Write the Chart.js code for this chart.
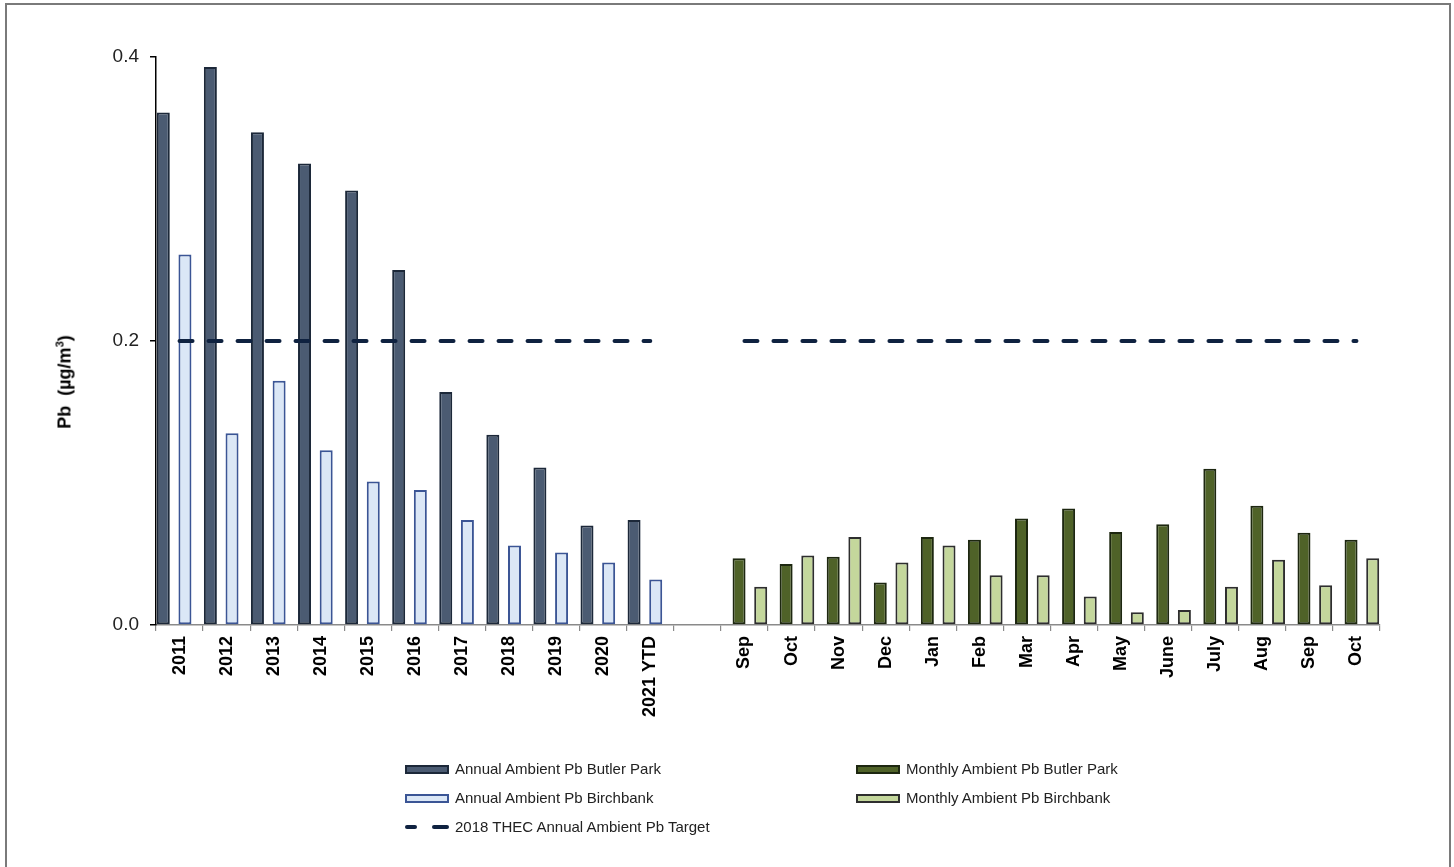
<!DOCTYPE html>
<html>
<head>
<meta charset="utf-8">
<script src="https://cdn.jsdelivr.net/npm/chart.js@4/dist/chart.umd.min.js"></script>
<style>
  html, body { margin: 0; padding: 0; background: #fff; }
  body { width: 1454px; height: 867px; position: relative; overflow: hidden; font-family: "Liberation Sans", Arial, sans-serif; }
  #frame { position: absolute; left: 5px; top: 3px; width: 1446px; height: 900px; border: 2px solid #7a7a7a; box-sizing: border-box; }
  #wrap { position: absolute; left: 0; top: 0; width: 1454px; height: 867px; }
  #ytitle { position: absolute; left: 65px; top: 382px; transform: translate(-50%, -50%) rotate(-90deg); font-weight: bold; font-size: 18px; white-space: nowrap; color: #000; }
  #ytitle sup { font-size: 11px; vertical-align: 7px; line-height: 0; }
  .leg { position: absolute; font-size: 15px; color: #222; white-space: nowrap; line-height: 18px; }
  .sw { position: absolute; width: 44px; height: 9px; box-sizing: border-box; }
  .dash { position: absolute; height: 4px; border-radius: 2px; background: #0f2240; }
</style>
</head>
<body>
<div id="frame"></div>
<div id="wrap"><canvas id="c" width="1454" height="867"></canvas></div>
<div id="ytitle">Pb&nbsp;&nbsp;(µg/m<sup>3</sup>)</div>
<div id="legend"></div>
<script>
// ---- data ----
const annualLabels = ['2011','2012','2013','2014','2015','2016','2017','2018','2019','2020','2021 YTD'];
const monthlyLabels = ['Sep','Oct','Nov','Dec','Jan','Feb','Mar','Apr','May','June','July','Aug','Sep','Oct'];
const annualButler = [0.361, 0.393, 0.347, 0.325, 0.306, 0.250, 0.164, 0.134, 0.111, 0.070, 0.074];
const annualBirchbank = [0.261, 0.135, 0.172, 0.123, 0.101, 0.095, 0.074, 0.056, 0.051, 0.044, 0.032];
const monthlyButler = [0.047, 0.043, 0.048, 0.030, 0.062, 0.060, 0.075, 0.082, 0.0655, 0.071, 0.110, 0.084, 0.065, 0.060];
const monthlyBirchbank = [0.027, 0.049, 0.062, 0.044, 0.056, 0.035, 0.035, 0.020, 0.009, 0.0106, 0.027, 0.046, 0.028, 0.047];
const targetValue = 0.2;
const yTicks = [0.0, 0.2, 0.4];

// ---- build ----
const labels = [...annualLabels, '', ...monthlyLabels];
const nA = annualLabels.length, nM = monthlyLabels.length;
const gap = [null];
const padA = new Array(nM).fill(null);
const padM = new Array(nA).fill(null);
const dAB = [...annualButler, ...gap, ...padA];
const dABi = [...annualBirchbank, ...gap, ...padA];
const dMB = [...padM, ...gap, ...monthlyButler];
const dMBi = [...padM, ...gap, ...monthlyBirchbank];
const dT = [...annualLabels.map(() => targetValue), null, ...monthlyLabels.map(() => targetValue)];

const styles = {
  AB:  { bg: '#4b5b72', bd: '#1c2839' },
  ABi: { bg: '#dbe7f6', bd: '#3b5595' },
  MB:  { bg: '#4f6228', bd: '#1d2710' },
  MBi: { bg: '#c4d79c', bd: '#2e2e2e' },
  T:   { bd: '#0f2240' }
};

const barCommon = { borderWidth: 2, categoryPercentage: 0.92, barPercentage: 1.2, borderSkipped: false };

new Chart(document.getElementById('c'), {
  type: 'bar',
  data: {
    labels,
    datasets: [
      { type: 'line', label: '2018 THEC Annual Ambient Pb Target', data: dT, borderColor: styles.T.bd, borderWidth: 4,
        borderDash: [13, 16], borderCapStyle: 'round', pointRadius: 0, spanGaps: false, order: -1, fill: false },
      { label: 'Annual Ambient Pb Butler Park', data: dAB, backgroundColor: styles.AB.bg, borderColor: styles.AB.bd, ...barCommon },
      { label: 'Monthly Ambient Pb Butler Park', data: dMB, backgroundColor: styles.MB.bg, borderColor: styles.MB.bd, ...barCommon },
      { label: 'Annual Ambient Pb Birchbank', data: dABi, backgroundColor: styles.ABi.bg, borderColor: styles.ABi.bd, ...barCommon },
      { label: 'Monthly Ambient Pb Birchbank', data: dMBi, backgroundColor: styles.MBi.bg, borderColor: styles.MBi.bd, ...barCommon }
    ]
  },
  options: {
    responsive: false,
    animation: false,
    devicePixelRatio: 1,
    layout: { padding: { left: 0, right: 74, top: 57, bottom: 112 } },
    plugins: { legend: { display: false }, tooltip: { enabled: false } },
    scales: {
      x: {
        offset: true,
        grid: { offset: true, drawOnChartArea: false, drawTicks: true, tickLength: 6, color: '#8a8a8a', lineWidth: 1.2 },
        border: { display: true, color: '#8a8a8a', width: 1.5 },
        ticks: { autoSkip: false, maxRotation: 90, minRotation: 90, padding: 5, color: '#000',
                 font: { family: '"Liberation Sans", Arial, sans-serif', size: 18, weight: 'bold' } },
        afterFit: (s) => { s.height = 130; }
      },
      y: {
        min: 0, max: 0.4,
        afterBuildTicks: (s) => { s.ticks = yTicks.map(v => ({ value: v })); },
        grid: { drawOnChartArea: false, drawTicks: true, tickLength: 6, color: '#000', lineWidth: 1.5 },
        border: { display: true, color: '#000', width: 1.5 },
        ticks: { padding: 11, color: '#222', callback: (v) => Number(v).toFixed(1),
                 font: { family: '"Liberation Sans", Arial, sans-serif', size: 19 } },
        afterFit: (s) => { s.width = 156; }
      }
    }
  }
});

// ---- HTML legend ----
const legendItems = [
  { text: 'Annual Ambient Pb Butler Park', s: styles.AB, x: 405, y: 769 },
  { text: 'Monthly Ambient Pb Butler Park', s: styles.MB, x: 856, y: 769 },
  { text: 'Annual Ambient Pb Birchbank', s: styles.ABi, x: 405, y: 798 },
  { text: 'Monthly Ambient Pb Birchbank', s: styles.MBi, x: 856, y: 798 },
  { text: '2018 THEC Annual Ambient Pb Target', s: styles.T, x: 405, y: 827, line: true }
];
const leg = document.getElementById('legend');
legendItems.forEach(it => {
  if (it.line) {
    [[0, 12], [27, 17]].forEach(([dx, w]) => {
      const d = document.createElement('div');
      d.className = 'dash';
      d.style.left = (it.x + dx) + 'px'; d.style.top = (it.y - 2) + 'px'; d.style.width = w + 'px';
      d.style.background = it.s.bd;
      leg.appendChild(d);
    });
  } else {
    const sw = document.createElement('div');
    sw.className = 'sw';
    sw.style.left = it.x + 'px'; sw.style.top = (it.y - 4) + 'px';
    sw.style.background = it.s.bg; sw.style.border = '2px solid ' + it.s.bd;
    leg.appendChild(sw);
  }
  const t = document.createElement('div');
  t.className = 'leg';
  t.style.left = (it.x + 50) + 'px'; t.style.top = (it.y - 9) + 'px';
  t.textContent = it.text;
  leg.appendChild(t);
});
</script>
</body>
</html>
